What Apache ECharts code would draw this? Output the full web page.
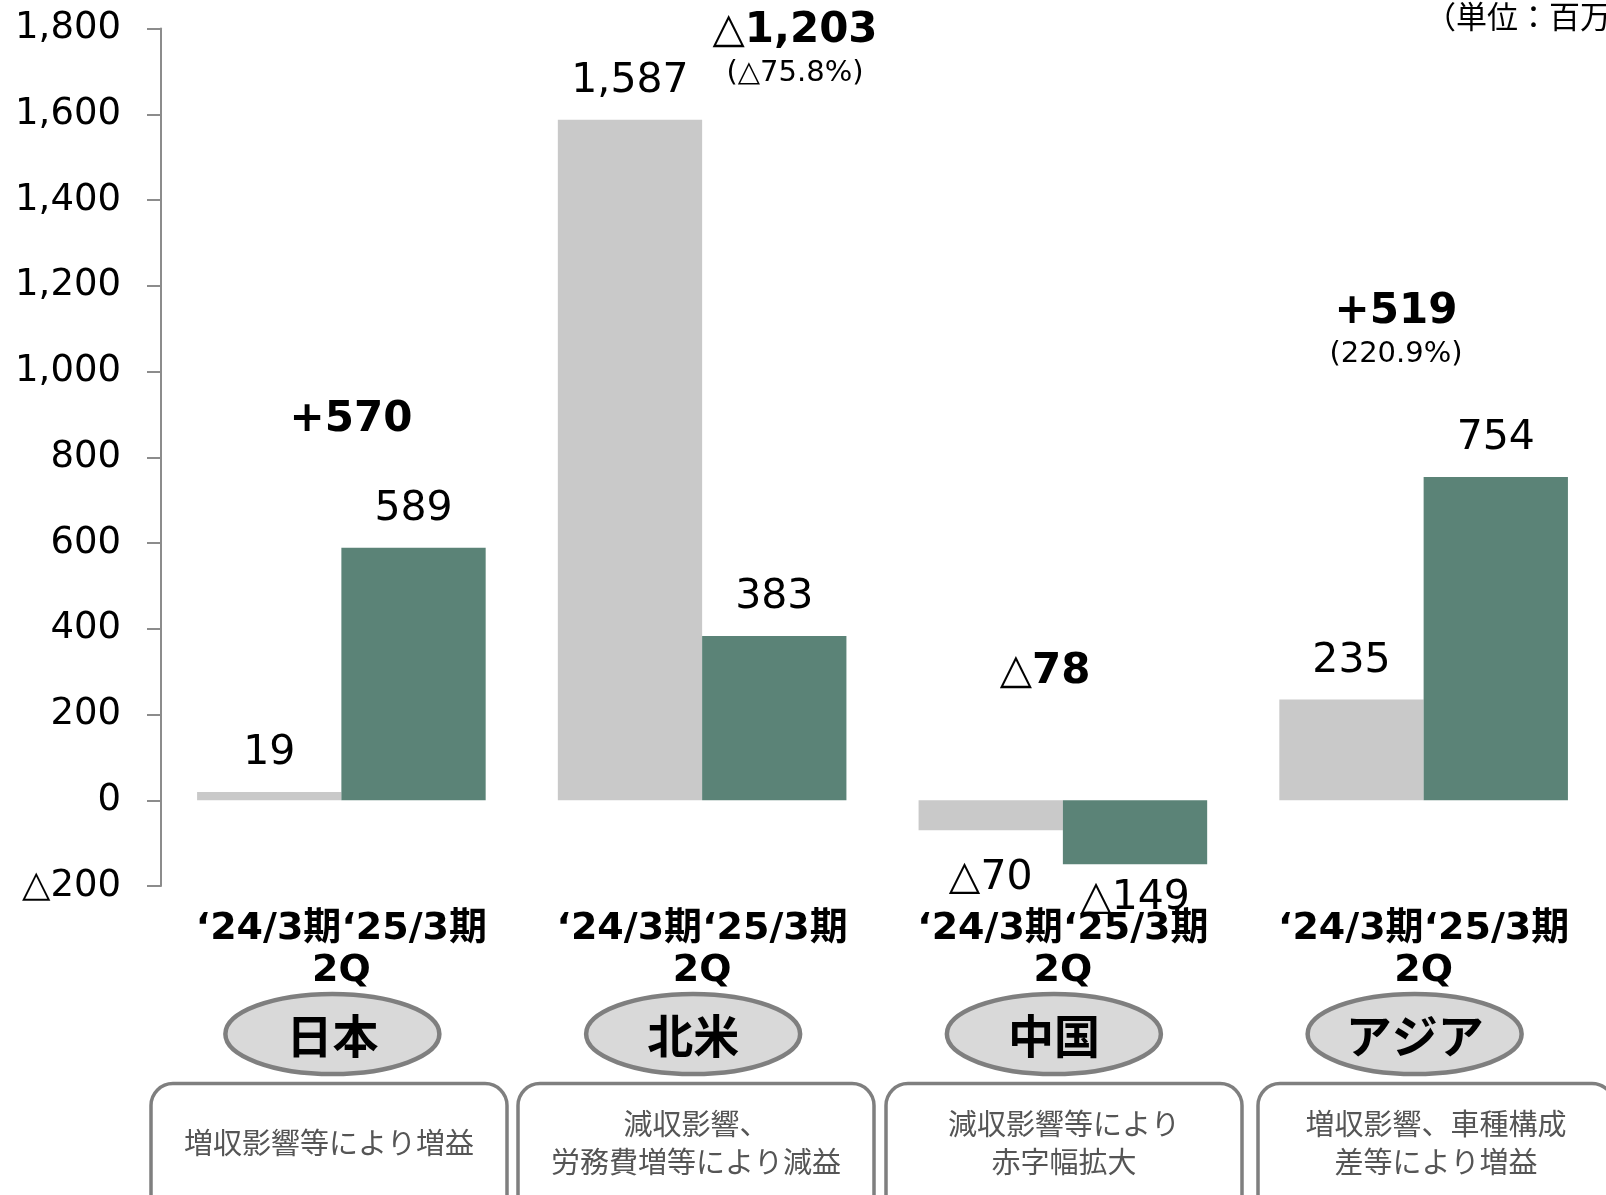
<!DOCTYPE html>
<html><head><meta charset="utf-8">
<script src="https://cdn.jsdelivr.net/npm/echarts@6/dist/echarts.min.js"></script>
<style>html,body{margin:0;padding:0;background:#fff;overflow:hidden}#c{width:1606px;height:1195px}</style>
</head><body><div id="c"></div>
<script>
// ---- data ----
const categories = ['日本', '北米', '中国', 'アジア'];
const periodLabel = ['‘24/3期‘25/3期', '2Q'];
const prevValues = [19, 1587, -70, 235];   // '24/3期 2Q
const currValues = [589, 383, -149, 754];  // '25/3期 2Q
const deltaLabels = ['+570', '△1,203', '△78', '+519'];
const deltaPct = ['', '(△75.8%)', '', '(220.9%)'];
const notes = ['増収影響等により増益', '減収影響、\n労務費増等により減益', '減収影響等により\n赤字幅拡大', '増収影響、車種構成\n差等により増益'];
const unitLabel = '（単位：百万円）';

// ---- helpers ----
function fmt(v) {
  const s = Math.abs(v).toString().replace(/\B(?=(\d{3})+(?!\d))/g, ',');
  return v < 0 ? '△' + s : s;
}
const LATIN = '"DejaVu Sans", "Noto Sans CJK JP", sans-serif';
const CJK = '"Noto Sans CJK JP", "DejaVu Sans", sans-serif';

function barData(arr, negDist) {
  return arr.map(v => v < 0 ? { value: v, label: { position: 'bottom', distance: negDist } } : { value: v });
}

const chart = echarts.init(document.getElementById('c'), null, { renderer: 'canvas' });
const valueLabel = { show: true, position: 'top', distance: 18, fontSize: 41, color: '#000', fontFamily: LATIN, formatter: p => fmt(p.value) };

chart.setOption({
  animation: false,
  backgroundColor: '#fff',
  grid: { left: 161, right: 2, top: 28.5, bottom: 309, containLabel: false },
  xAxis: {
    type: 'category', data: categories,
    axisLine: { show: false }, axisTick: { show: false },
    axisLabel: {
      interval: 0, margin: 22, fontSize: 38, fontWeight: 'bold', lineHeight: 42,
      color: '#000', fontFamily: LATIN, formatter: () => periodLabel.join('\n')
    }
  },
  yAxis: {
    type: 'value', min: -200, max: 1800, interval: 200,
    splitLine: { show: false },
    axisLine: { show: true, lineStyle: { color: '#8c8c8c', width: 2 } },
    axisTick: { show: true, length: 14, lineStyle: { color: '#8c8c8c', width: 2 } },
    axisLabel: { margin: 40, fontSize: 37, color: '#000', fontFamily: LATIN, formatter: v => fmt(v) }
  },
  series: [
    { type: 'bar', name: '24', data: barData(prevValues, 28), barGap: '0%', barCategoryGap: '20%',
      itemStyle: { color: '#c9c9c9' }, label: valueLabel },
    { type: 'bar', name: '25', data: barData(currValues, 14), barGap: '0%', barCategoryGap: '20%',
      itemStyle: { color: '#5b8377' }, label: valueLabel }
  ]
});

// ---- annotations / decorations ----
const deltaPos = [[351, 420], [795, 31], [1045, 672], [1396, 312]];
const boxX = [329, 696, 1064, 1436];
const g = [];
categories.forEach((name, i) => {
  const cx = chart.convertToPixel({ xAxisIndex: 0 }, name);
  // delta label
  g.push({ type: 'text', x: deltaPos[i][0], y: deltaPos[i][1], style: {
    text: deltaLabels[i], fontSize: 42, fontWeight: 'bold', fontFamily: LATIN, fill: '#000',
    textAlign: 'center', textVerticalAlign: 'middle' } });
  if (deltaPct[i]) g.push({ type: 'text', x: deltaPos[i][0], y: deltaPos[i][1] + 42, style: {
    text: deltaPct[i], fontSize: 29, fontFamily: LATIN, fill: '#000', textAlign: 'center', textVerticalAlign: 'middle' } });
  // ellipse with region name
  const ex = cx - 9;
  g.push({ type: 'ellipse', shape: { cx: ex, cy: 1034, rx: 107, ry: 40 },
    style: { fill: '#d9d9d9', stroke: '#7f7f7f', lineWidth: 4.5 } });
  g.push({ type: 'text', x: ex, y: 1036, style: { text: name, fontSize: 46, fontWeight: 'bold',
    fontFamily: CJK, fill: '#000', textAlign: 'center', textVerticalAlign: 'middle' } });
  // note box
  g.push({ type: 'rect', shape: { x: boxX[i] - 178, y: 1083.5, width: 356, height: 150, r: 22 },
    style: { fill: 'none', stroke: '#7f7f7f', lineWidth: 3.5 } });
  g.push({ type: 'text', x: boxX[i], y: 1143, style: { text: notes[i], fontSize: 29, lineHeight: 38,
    fontFamily: CJK, fill: '#555', textAlign: 'center', textVerticalAlign: 'middle' } });
});
g.push({ type: 'text', x: 1425, y: 16, style: { text: unitLabel, fontSize: 31, fontFamily: CJK, fill: '#000',
  textAlign: 'left', textVerticalAlign: 'middle' } });
chart.setOption({ graphic: g });
</script>
</body></html>
